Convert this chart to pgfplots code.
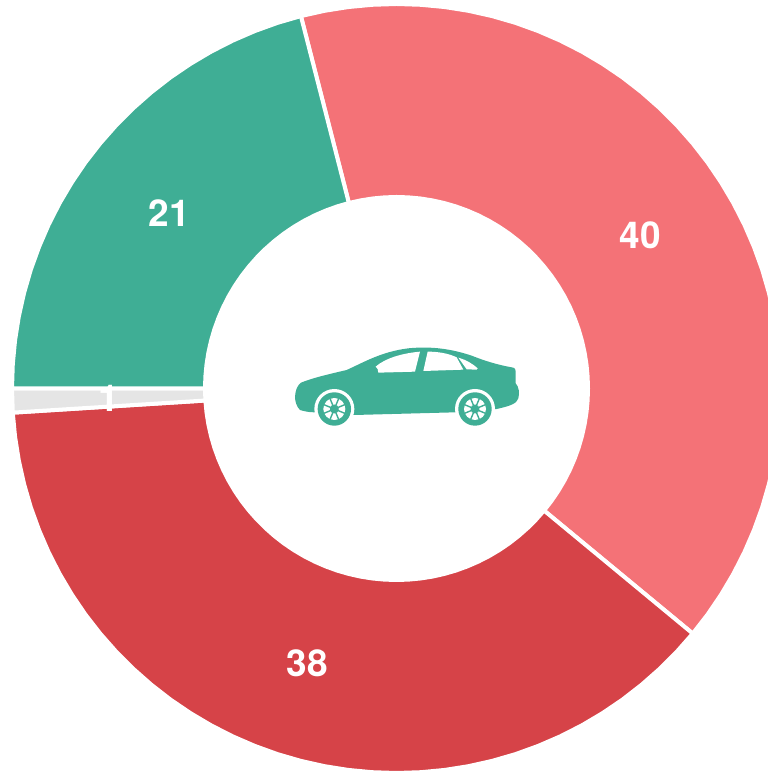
\documentclass[border=0pt]{standalone}
\usepackage{pgfplots}
\pgfplotsset{compat=1.18}
\usepackage{fontspec}
\setmainfont{TeX Gyre Heros}
\definecolor{cpink}{HTML}{F47277}
\definecolor{cred}{HTML}{D64348}
\definecolor{cteal}{HTML}{3FAE95}
\definecolor{cgray}{HTML}{E5E5E5}
\begin{document}
\begin{tikzpicture}
\useasboundingbox (0pt,0pt) rectangle (768pt,771pt);
\begin{axis}[
  hide axis, scale only axis, anchor=south west, at={(0pt,0pt)},
  width=768pt, height=771pt,
  xmin=-396.5, xmax=371.5, ymin=-382.5, ymax=388.5,
  clip=true,
]
% values: 40 (pink), 38 (red), 1 (gray), 21 (teal); start at -14.4 deg clockwise from top
\addplot[data cs=polar, fill=cpink, draw=white, line width=4pt, line join=round] coordinates {
(104.4,384.5)(100.8,384.5)(97.2,384.5)(93.6,384.5)(90,384.5)(86.4,384.5)(82.8,384.5)(79.2,384.5)(75.6,384.5)(72,384.5)(68.4,384.5)(64.8,384.5)(61.2,384.5)(57.6,384.5)(54,384.5)(50.4,384.5)(46.8,384.5)(43.2,384.5)(39.6,384.5)(36,384.5)(32.4,384.5)(28.8,384.5)(25.2,384.5)(21.6,384.5)(18,384.5)(14.4,384.5)(10.8,384.5)(7.2,384.5)(3.6,384.5)(0,384.5)(-3.6,384.5)(-7.2,384.5)(-10.8,384.5)(-14.4,384.5)(-18,384.5)(-21.6,384.5)(-25.2,384.5)(-28.8,384.5)(-32.4,384.5)(-36,384.5)(-39.6,384.5)
(-39.6,191.5)(-36,191.5)(-32.4,191.5)(-28.8,191.5)(-25.2,191.5)(-21.6,191.5)(-18,191.5)(-14.4,191.5)(-10.8,191.5)(-7.2,191.5)(-3.6,191.5)(0,191.5)(3.6,191.5)(7.2,191.5)(10.8,191.5)(14.4,191.5)(18,191.5)(21.6,191.5)(25.2,191.5)(28.8,191.5)(32.4,191.5)(36,191.5)(39.6,191.5)(43.2,191.5)(46.8,191.5)(50.4,191.5)(54,191.5)(57.6,191.5)(61.2,191.5)(64.8,191.5)(68.4,191.5)(72,191.5)(75.6,191.5)(79.2,191.5)(82.8,191.5)(86.4,191.5)(90,191.5)(93.6,191.5)(97.2,191.5)(100.8,191.5)(104.4,191.5)
} -- cycle;
\addplot[data cs=polar, fill=cred, draw=white, line width=4pt, line join=round] coordinates {
(-39.6,384.5)(-43.2,384.5)(-46.8,384.5)(-50.4,384.5)(-54,384.5)(-57.6,384.5)(-61.2,384.5)(-64.8,384.5)(-68.4,384.5)(-72,384.5)(-75.6,384.5)(-79.2,384.5)(-82.8,384.5)(-86.4,384.5)(-90,384.5)(-93.6,384.5)(-97.2,384.5)(-100.8,384.5)(-104.4,384.5)(-108,384.5)(-111.6,384.5)(-115.2,384.5)(-118.8,384.5)(-122.4,384.5)(-126,384.5)(-129.6,384.5)(-133.2,384.5)(-136.8,384.5)(-140.4,384.5)(-144,384.5)(-147.6,384.5)(-151.2,384.5)(-154.8,384.5)(-158.4,384.5)(-162,384.5)(-165.6,384.5)(-169.2,384.5)(-172.8,384.5)(-176.4,384.5)
(-176.4,191.5)(-172.8,191.5)(-169.2,191.5)(-165.6,191.5)(-162,191.5)(-158.4,191.5)(-154.8,191.5)(-151.2,191.5)(-147.6,191.5)(-144,191.5)(-140.4,191.5)(-136.8,191.5)(-133.2,191.5)(-129.6,191.5)(-126,191.5)(-122.4,191.5)(-118.8,191.5)(-115.2,191.5)(-111.6,191.5)(-108,191.5)(-104.4,191.5)(-100.8,191.5)(-97.2,191.5)(-93.6,191.5)(-90,191.5)(-86.4,191.5)(-82.8,191.5)(-79.2,191.5)(-75.6,191.5)(-72,191.5)(-68.4,191.5)(-64.8,191.5)(-61.2,191.5)(-57.6,191.5)(-54,191.5)(-50.4,191.5)(-46.8,191.5)(-43.2,191.5)(-39.6,191.5)
} -- cycle;
\addplot[data cs=polar, fill=cgray, draw=white, line width=4pt, line join=round] coordinates {
(183.6,384.5)(180,384.5)(180,191.5)(183.6,191.5)
} -- cycle;
\addplot[data cs=polar, fill=cteal, draw=white, line width=4pt, line join=round] coordinates {
(180,384.5)(176.4,384.5)(172.8,384.5)(169.2,384.5)(165.6,384.5)(162,384.5)(158.4,384.5)(154.8,384.5)(151.2,384.5)(147.6,384.5)(144,384.5)(140.4,384.5)(136.8,384.5)(133.2,384.5)(129.6,384.5)(126,384.5)(122.4,384.5)(118.8,384.5)(115.2,384.5)(111.6,384.5)(108,384.5)(104.4,384.5)
(104.4,191.5)(108,191.5)(111.6,191.5)(115.2,191.5)(118.8,191.5)(122.4,191.5)(126,191.5)(129.6,191.5)(133.2,191.5)(136.8,191.5)(140.4,191.5)(144,191.5)(147.6,191.5)(151.2,191.5)(154.8,191.5)(158.4,191.5)(162,191.5)(165.6,191.5)(169.2,191.5)(172.8,191.5)(176.4,191.5)(180,191.5)
} -- cycle;
\node[text=white, font=\fontsize{37}{37}\selectfont\bfseries, inner sep=0pt] at (axis cs:244,153.5) {40};
\node[text=white, font=\fontsize{37}{37}\selectfont\bfseries, inner sep=0pt] at (axis cs:-89.5,-274.5) {38};
\node[text=white, font=\fontsize{37}{37}\selectfont\bfseries, inner sep=0pt] at (axis cs:-287.5,-10) {1};
\node[text=white, font=\fontsize{37}{37}\selectfont\bfseries, inner sep=0pt] at (axis cs:-227.5,175.5) {21};
\end{axis}
\begin{scope}[shift={(285pt,436pt)}, x=0.33333pt, y=-0.33333pt]
\fill[cteal] (30,185) .. controls (31,165) and (38,150) .. (48,143)
  .. controls (85,128) and (130,118) .. (185,105)
  .. controls (240,80) and (290,50) .. (370,40)
  .. controls (440,33) and (500,42) .. (560,62)
  .. controls (600,78) and (640,90) .. (680,97)
  .. controls (692,98) and (692,105) .. (692,115)
  -- (692,145) .. controls (702,155) and (704,175) .. (700,190)
  .. controls (695,205) and (680,212) .. (635,222)
  -- (510,232) -- (208,240) -- (88,232)
  .. controls (70,232) and (55,228) .. (45,225)
  .. controls (35,215) and (30,200) .. (30,185) -- cycle;
\fill[white] (272,95) .. controls (300,70) and (350,55) .. (405,50) -- (390,110) -- (280,113) -- (278,102) -- cycle;
\fill[white] (428,50) .. controls (460,50) and (490,55) .. (515,67) -- (535,104) -- (415,108) -- cycle;
\fill[white] (520,68) .. controls (545,75) and (565,88) .. (578,100) -- (575,104) -- (545,103) -- cycle;
\foreach \cx in {148,570} {
  \fill[white] (\cx,222) circle[radius=20pt];
  \fill[cteal] (\cx,222) circle[radius=16.7pt];
  \fill[white] (\cx,222) circle[radius=11pt];
  \fill[cteal] (\cx,222) circle[radius=4.5pt];
  \foreach \a in {0,45,...,315} {
    \draw[cteal, line width=1.4pt] (\cx,222) -- ++(\a+22.5:36);
  }
}
\end{scope}
\end{tikzpicture}
\end{document}
